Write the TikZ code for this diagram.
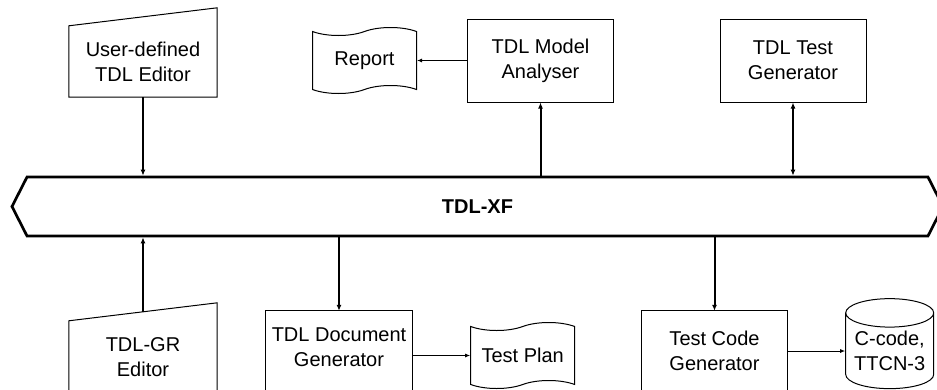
\documentclass[tikz,border=0pt]{standalone}
\usepackage{fontspec}
\setmainfont{Liberation Sans}
\usetikzlibrary{arrows.meta,shapes.geometric,shapes.symbols,positioning,calc}

\begin{document}
\begin{tikzpicture}[x=1pt,y=-1pt,
font=\fontsize{20pt}{25pt}\selectfont,
box/.style={draw,line width=1pt,minimum width=146pt,minimum height=83pt,align=center},
openbox/.style={minimum width=146pt,minimum height=73pt,align=center},
paper/.style={draw,line width=1pt,tape,tape bend height=8pt,minimum width=104pt,minimum height=66pt},
store/.style={draw,line width=1pt,cylinder,shape border rotate=90,aspect=0.4,minimum width=88pt,minimum height=90pt,align=center,inner sep=0pt},
busbar/.style={draw,line width=2.7pt,signal,signal to=west and east,signal pointer angle=126,minimum width=931pt,minimum height=59pt,font=\fontsize{20pt}{25pt}\selectfont\bfseries},
link/.style={line width=2pt,>={Latex[length=6pt,width=5pt]}},
feed/.style={line width=1pt,>={Latex[length=5pt,width=4pt]},->}
]
\useasboundingbox (0,0) rectangle (937,389);
\clip (0,0) rectangle (937,389);

\node[busbar] (bus) at (477.5,206.5) {TDL-XF};

\node[openbox,minimum width=148pt,minimum height=71pt] (ude) at (143,61.5) {User-defined\\TDL Editor};
\node[box] (tma) at (540.5,60.5) {TDL Model\\Analyser};
\node[box] (ttg) at (793,60.5) {TDL Test\\Generator};
\node[paper,left=50pt of tma] (rep) {Report};

\node[openbox,minimum width=148pt] (grd) at (143,357.5) {TDL-GR\\Editor};
\node[openbox] (tdg) at (339,347.5) {TDL Document\\Generator};
\node[openbox,minimum height=80pt] (tcg) at (714.5,351) {Test Code\\Generator};
\node[paper,right=58pt of tdg,yshift=-8pt] (tpl) {Test Plan};
\node[store,right=57.5pt of tcg] (code) {C-code,\\TTCN-3};

\draw[line width=1pt] (ude.south west) -- (ude.north west) -- ([yshift=18pt]ude.north east) -- (ude.south east) -- cycle;
\draw[line width=1pt] (grd.south west) -- (grd.north west) -- ([yshift=18pt]grd.north east) -- (grd.south east);
\draw[line width=1pt] ([yshift=-20pt]tdg.south west) -- (tdg.north west) -- (tdg.north east) -- ([yshift=-20pt]tdg.south east);
\draw[line width=1pt] ([yshift=-20pt]tcg.south west) -- (tcg.north west) -- (tcg.north east) -- ([yshift=-20pt]tcg.south east);
\coordinate (grdtop) at ($(grd.north west)!0.5!([yshift=18pt]grd.north east)$);

\path[link,->] (ude.south) edge (ude.south |- bus.north)
               (tma.south |- bus.north) edge (tma.south)
               (grdtop) edge (grdtop |- bus.south)
               (tdg.north |- bus.south) edge (tdg.north)
               (tcg.north |- bus.south) edge (tcg.north);
\draw[link,<->] (ttg.south) -- (ttg.south |- bus.north);

\draw[feed] (tma.west) -- (rep.east);
\draw[feed] (tdg.east |- tpl.west) -- (tpl.west);
\draw[feed] (tcg.east) -- (tcg.east -| code.west);
\end{tikzpicture}
\end{document}
